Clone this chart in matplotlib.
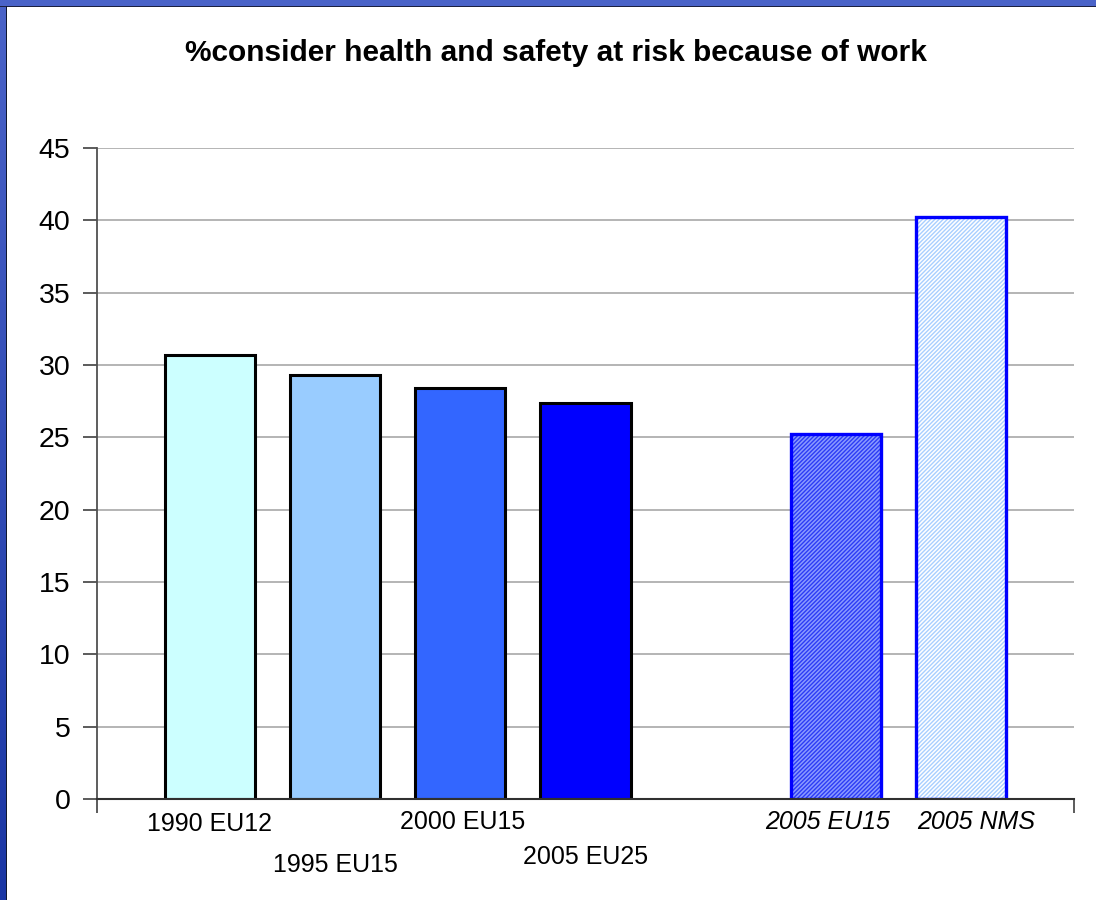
import numpy as np
import matplotlib
matplotlib.use("Agg")
import matplotlib.pyplot as plt
from matplotlib.patches import Rectangle
from matplotlib.colors import LinearSegmentedColormap

plt.rcParams['font.family'] = ['Liberation Sans', 'DejaVu Sans']
plt.rcParams['hatch.linewidth'] = 1.0

# Data
categories = ["1990 EU12", "1995 EU15", "2000 EU15", "2005 EU25", "2005 EU15", "2005 NMS"]
values = [30.7, 29.3, 28.4, 27.4, 25.2, 40.2]
title = "%consider health and safety at risk because of work"
y_ticks = [0, 5, 10, 15, 20, 25, 30, 35, 40, 45]

# Layout: four solid bars, an empty slot, then two hatched bars
positions = [0, 1, 2, 3, 5, 6]
solid_colors = ["#CCFFFF", "#99CCFF", "#3366FF", "#0000FF"]
hatch_face = ["#8A9AFF", "#FFFFFF"]
hatch_line = ["#2C3CF5", "#A8CFFF"]
label_dy = [-25, -66, -23, -58, -23, -23]   # label centre below axis, px
label_dx = [0, 0, 2, 0, -8, 15]
italic = [False, False, False, False, True, True]

W, H = 1096, 900
fig = plt.figure(figsize=(W / 100, H / 100), dpi=100)
fig.patch.set_facecolor("white")

ax = fig.add_axes([97 / W, 1 - 799 / H, (1074 - 97) / W, (799 - 148) / H])
ax.set_xlim(-0.9, 6.9)
ax.set_ylim(0, 45)

bw = 0.72
for i in range(4):
    ax.bar(positions[i], values[i], width=bw, color=solid_colors[i],
           edgecolor="black", linewidth=2.2, zorder=3)
for j, i in enumerate(range(4, 6)):
    ax.bar(positions[i], values[i], width=bw, color=hatch_face[j],
           edgecolor=hatch_line[j], hatch="////////", linewidth=0, zorder=3)
    ax.bar(positions[i], values[i], width=bw, fill=False,
           edgecolor="#0000FF", linewidth=2.4, zorder=4)

ax.set_yticks(y_ticks)
ax.set_yticklabels([str(t) for t in y_ticks], fontsize=20.5)
ax.tick_params(axis="y", direction="out", length=10, width=1.2,
               color="#404040", pad=9)
ax.yaxis.grid(True, color="#A8A8A8", linewidth=1.2, zorder=0)
ax.set_axisbelow(True)

# x axis: end ticks only, category labels placed individually
ax.set_xticks([-0.9, 6.9])
ax.set_xticklabels(["", ""])
ax.tick_params(axis="x", direction="out", length=10, width=1.2, color="#404040")

for sp in ["top", "right"]:
    ax.spines[sp].set_visible(False)
ax.spines["left"].set_color("#505050")
ax.spines["left"].set_linewidth(1.3)
ax.spines["bottom"].set_color("#303030")
ax.spines["bottom"].set_linewidth(1.5)
ax.spines["bottom"].set_zorder(5)

for p, lab, dx, dy, it in zip(positions, categories, label_dx, label_dy, italic):
    ax.annotate(lab, xy=(p, 0), xycoords=("data", "axes fraction"),
                xytext=(dx * 0.72, dy * 0.72), textcoords="offset points",
                ha="center", va="center", fontsize=18,
                style="italic" if it else "normal")

fig.text(556 / W, 1 - 53 / H, title, ha="center", va="center",
         fontsize=21.5, fontweight="bold")

# Frame: blue band along the top and a shaded band down the left edge
fig.patches.append(Rectangle((0, 1 - 6 / H), 1, 6 / H, transform=fig.transFigure,
                             facecolor="#4A63C8", edgecolor="none", zorder=10))
fig.patches.append(Rectangle((0, 1 - 7 / H), 1, 1.3 / H, transform=fig.transFigure,
                             facecolor="#1C2040", edgecolor="none", zorder=10))
side = fig.add_axes([0, 0, 7 / W, 1])
grad = np.linspace(0, 1, 256).reshape(-1, 1)
cmap = LinearSegmentedColormap.from_list("side", ["#4A63C8", "#1A36A4"])
side.imshow(grad, aspect="auto", cmap=cmap, extent=[0, 1, 0, 1], origin="upper")
side.axis("off")
fig.patches.append(Rectangle((6 / W, 0), 1.3 / W, 1 - 6 / H, transform=fig.transFigure,
                             facecolor="#101830", edgecolor="none", zorder=10))

fig.savefig("out.png", dpi=100)
